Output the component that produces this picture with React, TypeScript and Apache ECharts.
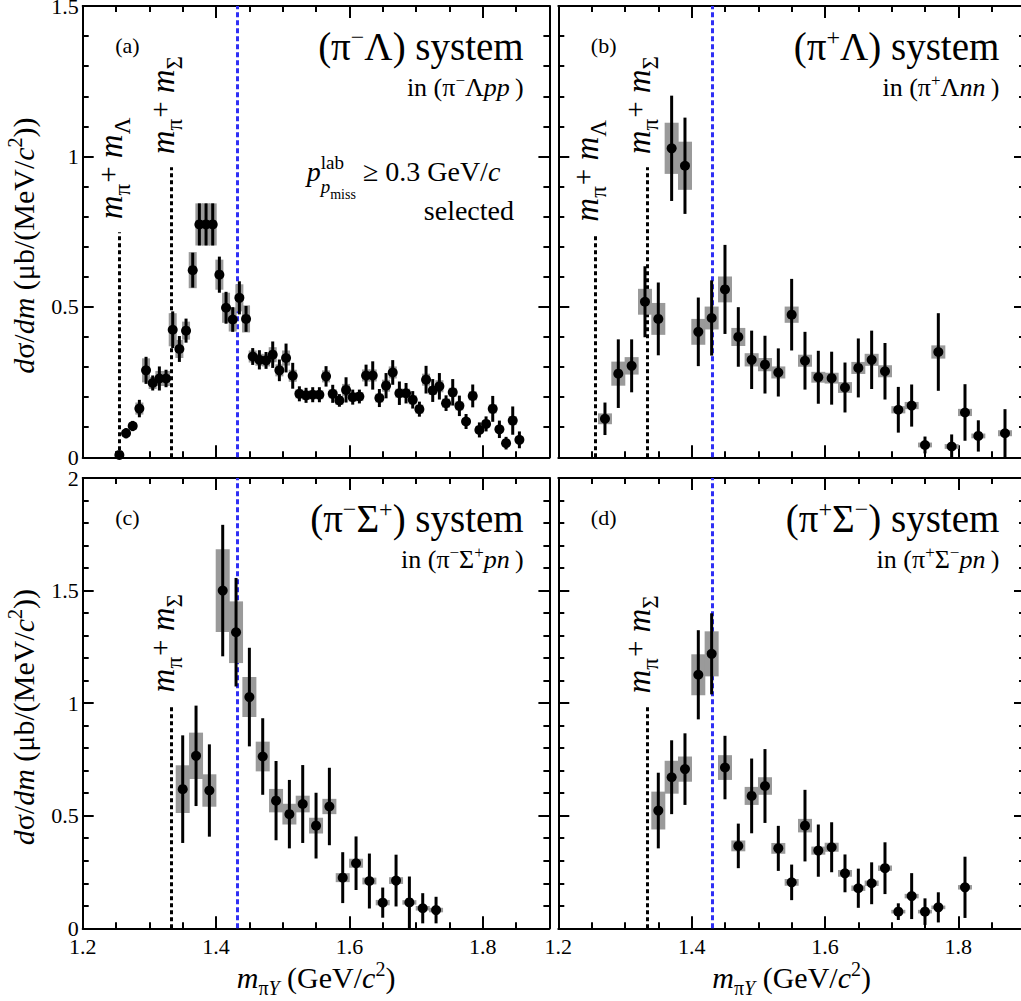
import React, { useEffect, useRef } from "react";
import * as echarts from "echarts";

const FONT = '"Liberation Serif", "Times New Roman", Times, serif';

// Mass thresholds (GeV/c^2)
const M_PI_LAMBDA = 1.2553;
const M_PI_SIGMA = 1.3335;
const M_KBAR_N = 1.432;

// Axis ranges and tick positions
const X_MIN = 1.2;
const X_MAX = 1.9;
const X_MAJOR = [1.2, 1.4, 1.6, 1.8];
const X_MINOR = [1.25, 1.3, 1.35, 1.45, 1.5, 1.55, 1.65, 1.7, 1.75, 1.85];
const Y_MAJOR_TOP = [0, 0.5, 1, 1.5];
const Y_MINOR_TOP = [0.1, 0.2, 0.3, 0.4, 0.6, 0.7, 0.8, 0.9, 1.1, 1.2, 1.3, 1.4];
const Y_MAJOR_BOTTOM = [0, 0.5, 1, 1.5, 2];
const Y_MINOR_BOTTOM = [0.1, 0.2, 0.3, 0.4, 0.6, 0.7, 0.8, 0.9, 1.1, 1.2, 1.3, 1.4, 1.6, 1.7, 1.8, 1.9];

// (a) pi- Lambda in (pi- Lambda p p)
const A_MASS = [
  1.255, 1.265, 1.275, 1.285, 1.295, 1.305, 1.315, 1.325, 1.335, 1.345,
  1.355, 1.365, 1.375, 1.385, 1.395, 1.405, 1.415, 1.425, 1.435, 1.445,
  1.455, 1.465, 1.475, 1.485, 1.495, 1.505, 1.515, 1.525, 1.535, 1.545,
  1.555, 1.565, 1.575, 1.585, 1.595, 1.605, 1.615, 1.625, 1.635, 1.645,
  1.655, 1.665, 1.675, 1.685, 1.695, 1.705, 1.715, 1.725, 1.735, 1.745,
  1.755, 1.765, 1.775, 1.785, 1.795, 1.805, 1.815, 1.825, 1.835, 1.845,
  1.855,
];
const A_XS = [
  0.008, 0.080, 0.104, 0.162, 0.289, 0.247, 0.262, 0.262, 0.424, 0.360,
  0.421, 0.622, 0.774, 0.774, 0.774, 0.607, 0.497, 0.458, 0.530, 0.460,
  0.335, 0.324, 0.322, 0.341, 0.289, 0.330, 0.271, 0.211, 0.206, 0.208,
  0.208, 0.269, 0.211, 0.189, 0.224, 0.200, 0.202, 0.272, 0.272, 0.197,
  0.238, 0.282, 0.213, 0.213, 0.191, 0.160, 0.258, 0.222, 0.236, 0.180,
  0.216, 0.171, 0.119, 0.204, 0.091, 0.111, 0.161, 0.093, 0.047, 0.122,
  0.058,
];
const A_STAT = [
  0.005, 0.017, 0.017, 0.029, 0.045, 0.025, 0.040, 0.029, 0.061, 0.043,
  0.040, 0.058, 0.070, 0.070, 0.070, 0.060, 0.053, 0.041, 0.055, 0.043,
  0.028, 0.032, 0.028, 0.044, 0.036, 0.048, 0.043, 0.025, 0.025, 0.025,
  0.025, 0.034, 0.030, 0.021, 0.042, 0.025, 0.023, 0.036, 0.047, 0.030,
  0.042, 0.041, 0.039, 0.034, 0.029, 0.025, 0.046, 0.038, 0.044, 0.026,
  0.044, 0.034, 0.025, 0.038, 0.025, 0.025, 0.043, 0.029, 0.021, 0.047,
  0.028,
];
const A_SYS = [
  0.004, 0.010, 0.012, 0.020, 0.040, 0.020, 0.025, 0.025, 0.055, 0.030,
  0.030, 0.060, 0.070, 0.070, 0.070, 0.050, 0.050, 0.040, 0.045, 0.045,
  0.020, 0.020, 0.020, 0.025, 0.020, 0.025, 0.020, 0.015, 0.015, 0.015,
  0.015, 0.020, 0.015, 0.015, 0.020, 0.015, 0.015, 0.020, 0.020, 0.015,
  0.020, 0.020, 0.015, 0.015, 0.015, 0.015, 0.020, 0.015, 0.020, 0.015,
  0.015, 0.015, 0.012, 0.015, 0.012, 0.012, 0.015, 0.012, 0.010, 0.015,
  0.012,
];

// (b) pi+ Lambda in (pi+ Lambda n n)
const B_MASS = [
  1.27, 1.29, 1.31, 1.33, 1.35, 1.37, 1.39, 1.41, 1.43, 1.45,
  1.47, 1.49, 1.51, 1.53, 1.55, 1.57, 1.59, 1.61, 1.63, 1.65,
  1.67, 1.69, 1.71, 1.73, 1.75, 1.77, 1.79, 1.81, 1.83, 1.87,
];
const B_XS = [
  0.128, 0.278, 0.304, 0.517, 0.460, 1.027, 0.969, 0.417, 0.463, 0.558,
  0.400, 0.324, 0.308, 0.282, 0.474, 0.321, 0.266, 0.263, 0.232, 0.297,
  0.324, 0.286, 0.158, 0.172, 0.041, 0.350, 0.036, 0.149, 0.071, 0.080,
];
const B_STAT = [
  0.054, 0.114, 0.088, 0.118, 0.121, 0.175, 0.160, 0.114, 0.125, 0.148,
  0.099, 0.097, 0.096, 0.080, 0.119, 0.096, 0.088, 0.088, 0.083, 0.098,
  0.097, 0.094, 0.076, 0.070, 0.028, 0.129, 0.040, 0.094, 0.052, 0.080,
];
const B_SYS = [
  0.018, 0.040, 0.029, 0.043, 0.053, 0.085, 0.080, 0.043, 0.038, 0.043,
  0.030, 0.022, 0.022, 0.020, 0.027, 0.020, 0.018, 0.018, 0.018, 0.020,
  0.020, 0.020, 0.012, 0.012, 0.008, 0.022, 0.008, 0.012, 0.008, 0.010,
];

// (c) pi- Sigma+ in (pi- Sigma+ p n)
const C_MASS = [
  1.35, 1.37, 1.39, 1.41, 1.43, 1.45, 1.47, 1.49, 1.51, 1.53,
  1.55, 1.57, 1.59, 1.61, 1.63, 1.65, 1.67, 1.69, 1.71, 1.73,
];
const C_XS = [
  0.618, 0.766, 0.612, 1.500, 1.315, 1.027, 0.763, 0.567, 0.507, 0.552,
  0.456, 0.541, 0.225, 0.289, 0.210, 0.114, 0.212, 0.115, 0.089, 0.081,
];
const C_STAT = [
  0.239, 0.223, 0.205, 0.292, 0.241, 0.219, 0.170, 0.176, 0.152, 0.173,
  0.146, 0.172, 0.113, 0.119, 0.122, 0.067, 0.115, 0.115, 0.067, 0.059,
];
const C_SYS = [
  0.106, 0.103, 0.072, 0.184, 0.137, 0.089, 0.066, 0.052, 0.046, 0.037,
  0.035, 0.034, 0.020, 0.020, 0.015, 0.012, 0.015, 0.010, 0.010, 0.010,
];

// (d) pi+ Sigma- in (pi+ Sigma- p n)
const D_MASS = [
  1.35, 1.37, 1.39, 1.41, 1.43, 1.45, 1.47, 1.49, 1.51, 1.53,
  1.55, 1.57, 1.59, 1.61, 1.63, 1.65, 1.67, 1.69, 1.71, 1.73,
  1.75, 1.77, 1.81,
];
const D_XS = [
  0.523, 0.671, 0.707, 1.126, 1.219, 0.714, 0.366, 0.588, 0.632, 0.355,
  0.204, 0.456, 0.345, 0.360, 0.244, 0.178, 0.200, 0.267, 0.074, 0.143,
  0.074, 0.093, 0.182,
];
const D_STAT = [
  0.168, 0.164, 0.159, 0.198, 0.180, 0.141, 0.099, 0.166, 0.164, 0.100,
  0.079, 0.159, 0.116, 0.111, 0.084, 0.087, 0.093, 0.115, 0.037, 0.102,
  0.059, 0.067, 0.136,
];
const D_SYS = [
  0.084, 0.073, 0.056, 0.091, 0.100, 0.055, 0.024, 0.040, 0.039, 0.024,
  0.015, 0.030, 0.018, 0.020, 0.015, 0.012, 0.012, 0.012, 0.008, 0.010,
  0.008, 0.008, 0.010,
];

// ---------- layout ----------
const COL_LEFT = [82.7, 558.3];
const ROW_TOP = [6, 478];
const ROW_H = [451.3, 450.3];
const PANEL_W = 466.7;

type Piece = { t: string; s: number; i?: boolean; dy?: number; dx?: number; stay?: boolean };

const sup = (t: string, s: number, dy: number): Piece => ({ t, s, dy });

type Panel = {
  tag: string;
  col: number;
  row: number;
  yMax: number;
  yMajor: number[];
  yMinor: number[];
  mass: number[];
  xs: number[];
  stat: number[];
  sys: number[];
  boxW: number;
  thresholds: { x: number; top: number; label: string }[];
  title: Piece[];
  sub: Piece[];
};

const PANELS: Panel[] = [
  {
    tag: "(a)", col: 0, row: 0, yMax: 1.5, yMajor: Y_MAJOR_TOP, yMinor: Y_MINOR_TOP,
    mass: A_MASS, xs: A_XS, stat: A_STAT, sys: A_SYS, boxW: 0.012,
    thresholds: [
      { x: M_PI_LAMBDA, top: 0.748, label: "Λ" },
      { x: M_PI_SIGMA, top: 0.964, label: "Σ" },
    ],
    title: [{ t: "(π", s: 39 }, sup("−", 24, -15), { t: "Λ) system", s: 39 }],
    sub: [{ t: "in (π", s: 26 }, sup("−", 17, -10), { t: "Λ", s: 26 }, { t: "pp", s: 26, i: true }, { t: "\u2009)", s: 26 }],
  },
  {
    tag: "(b)", col: 1, row: 0, yMax: 1.5, yMajor: Y_MAJOR_TOP, yMinor: Y_MINOR_TOP,
    mass: B_MASS, xs: B_XS, stat: B_STAT, sys: B_SYS, boxW: 0.021,
    thresholds: [
      { x: M_PI_LAMBDA, top: 0.74, label: "Λ" },
      { x: M_PI_SIGMA, top: 0.964, label: "Σ" },
    ],
    title: [{ t: "(π", s: 39 }, sup("+", 24, -15), { t: "Λ) system", s: 39 }],
    sub: [{ t: "in (π", s: 26 }, sup("+", 17, -10), { t: "Λ", s: 26 }, { t: "nn", s: 26, i: true }, { t: "\u2009)", s: 26 }],
  },
  {
    tag: "(c)", col: 0, row: 1, yMax: 2, yMajor: Y_MAJOR_BOTTOM, yMinor: Y_MINOR_BOTTOM,
    mass: C_MASS, xs: C_XS, stat: C_STAT, sys: C_SYS, boxW: 0.021,
    thresholds: [{ x: M_PI_SIGMA, top: 0.99, label: "Σ" }],
    title: [{ t: "(π", s: 39 }, sup("−", 24, -15), { t: "Σ", s: 39 }, sup("+", 24, -15), { t: ") system", s: 39 }],
    sub: [{ t: "in (π", s: 26 }, sup("−", 17, -10), { t: "Σ", s: 26 }, sup("+", 17, -10), { t: "pn", s: 26, i: true }, { t: "\u2009)", s: 26 }],
  },
  {
    tag: "(d)", col: 1, row: 1, yMax: 2, yMajor: Y_MAJOR_BOTTOM, yMinor: Y_MINOR_BOTTOM,
    mass: D_MASS, xs: D_XS, stat: D_STAT, sys: D_SYS, boxW: 0.021,
    thresholds: [{ x: M_PI_SIGMA, top: 0.985, label: "Σ" }],
    title: [{ t: "(π", s: 39 }, sup("+", 24, -15), { t: "Σ", s: 39 }, sup("−", 24, -15), { t: ") system", s: 39 }],
    sub: [{ t: "in (π", s: 26 }, sup("+", 17, -10), { t: "Σ", s: 26 }, sup("−", 17, -10), { t: "pn", s: 26, i: true }, { t: "\u2009)", s: 26 }],
  },
];

// ---------- text helpers ----------
let measureCtx: CanvasRenderingContext2D | null = null;
const fontOf = (p: Piece) => `${p.i ? "italic " : ""}${p.s}px ${FONT}`;
function measure(p: Piece): number {
  if (!measureCtx) measureCtx = document.createElement("canvas").getContext("2d");
  if (!measureCtx) return p.t.length * p.s * 0.5;
  measureCtx.font = fontOf(p);
  return measureCtx.measureText(p.t).width;
}

// Lays out a run of text pieces on a common baseline (y = baseline).
function richLine(
  pieces: Piece[],
  x: number,
  y: number,
  anchor: "left" | "right" | "center",
  rotation = 0
): any {
  let cx = 0;
  let maxX = 0;
  const placed: { p: Piece; at: number }[] = [];
  for (const p of pieces) {
    const start = cx + (p.dx || 0);
    placed.push({ p, at: start });
    const end = start + measure(p);
    maxX = Math.max(maxX, end);
    if (!p.stay) cx = end;
  }
  const total = Math.max(maxX, cx);
  const off = anchor === "left" ? 0 : anchor === "right" ? -total : -total / 2;
  const children = placed.map(({ p, at }) => ({
    type: "text",
    x: off + at,
    y: (p.dy || 0) - 0.34 * p.s,
    silent: true,
    style: {
      text: p.t,
      font: fontOf(p),
      fill: "#000",
      align: "left",
      verticalAlign: "middle",
      textAlign: "left",
      textVerticalAlign: "middle",
    },
  }));
  return { type: "group", x, y, rotation, silent: true, children };
}

// Snap a vertical line's x so a 3px stroke lands on whole pixels.
const crisp = (v: number) => Math.round(v - 0.5) + 0.5;

// ---------- chart ----------
const px = (p: Panel, v: number) => COL_LEFT[p.col] + ((v - X_MIN) / (X_MAX - X_MIN)) * PANEL_W;
const py = (p: Panel, v: number) => ROW_TOP[p.row] + ROW_H[p.row] * (1 - v / p.yMax);

function buildOption() {
  const grid: any[] = [];
  const xAxis: any[] = [];
  const yAxis: any[] = [];
  const series: any[] = [];
  const elements: any[] = [];
  const lineStyle = { color: "#000", width: 2 };

  PANELS.forEach((p, gi) => {
    const showX = p.row === 1;
    const showY = p.col === 0;
    grid.push({
      left: COL_LEFT[p.col],
      top: ROW_TOP[p.row],
      width: PANEL_W,
      height: ROW_H[p.row],
      containLabel: false,
      outerBoundsMode: "none",
      show: false,
    });

    const xBase = { type: "value", gridIndex: gi, min: X_MIN, max: X_MAX, splitLine: { show: false } };
    const xLabel = {
      show: showX, customValues: X_MAJOR, interval: 0, margin: 7,
      color: "#000", fontSize: 22, fontFamily: FONT,
    };
    for (const pos of ["bottom", "top"]) {
      xAxis.push({
        ...xBase, position: pos,
        axisLine: { show: true, onZero: false, lineStyle },
        axisTick: { show: true, inside: true, length: 12, customValues: X_MAJOR, lineStyle },
        axisLabel: pos === "bottom" ? xLabel : { show: false },
      });
      xAxis.push({
        ...xBase, position: pos,
        axisLine: { show: false, onZero: false },
        axisTick: { show: true, inside: true, length: 6, customValues: X_MINOR, lineStyle },
        axisLabel: { show: false },
      });
    }

    const yBase = { type: "value", gridIndex: gi, min: 0, max: p.yMax, splitLine: { show: false } };
    const yLabel = {
      show: showY, customValues: p.yMajor, interval: 0, margin: 4,
      color: "#000", fontSize: 22, fontFamily: FONT,
    };
    for (const pos of ["left", "right"]) {
      yAxis.push({
        ...yBase, position: pos,
        axisLine: { show: true, onZero: false, lineStyle },
        axisTick: { show: true, inside: true, length: 11, customValues: p.yMajor, lineStyle },
        axisLabel: pos === "left" ? yLabel : { show: false },
      });
      yAxis.push({
        ...yBase, position: pos,
        axisLine: { show: false, onZero: false },
        axisTick: { show: true, inside: true, length: 6, customValues: p.yMinor, lineStyle },
        axisLabel: { show: false },
      });
    }

    const ax = gi * 4;
    const rows = p.mass.map((m, i) => [m, p.xs[i], p.stat[i], p.sys[i]]);
    const halfW = p.boxW / 2;
    const yMax = p.yMax;

    // threshold markers
    series.push({
      type: "custom", xAxisIndex: ax, yAxisIndex: ax, z: 1, silent: true,
      data: p.thresholds.map((t) => [t.x, t.top]),
      renderItem: (_: any, api: any) => {
        const a = api.coord([api.value(0), 0]);
        const b = api.coord([api.value(0), api.value(1)]);
        const x = crisp(a[0]);
        return {
          type: "line",
          shape: { x1: x, y1: a[1], x2: x, y2: b[1] },
          style: { stroke: "#000", lineWidth: 3, lineDash: [4, 3] },
        };
      },
    });
    series.push({
      type: "custom", xAxisIndex: ax, yAxisIndex: ax, z: 1, silent: true,
      data: [[M_KBAR_N, yMax]],
      renderItem: (_: any, api: any) => {
        const a = api.coord([api.value(0), 0]);
        const b = api.coord([api.value(0), api.value(1)]);
        const x = crisp(a[0]);
        return {
          type: "line",
          shape: { x1: x, y1: a[1], x2: x, y2: b[1] },
          style: { stroke: "#2f2ff5", lineWidth: 3, lineDash: [5, 3] },
        };
      },
    });
    // systematic boxes
    series.push({
      type: "custom", xAxisIndex: ax, yAxisIndex: ax, z: 2, silent: true,
      data: rows,
      renderItem: (_: any, api: any) => {
        const x = api.value(0), y = api.value(1), s = api.value(3);
        const p1 = api.coord([x - halfW, Math.min(y + s, yMax)]);
        const p2 = api.coord([x + halfW, Math.max(y - s, 0)]);
        return {
          type: "rect",
          shape: { x: p1[0], y: p1[1], width: p2[0] - p1[0], height: Math.max(p2[1] - p1[1], 2) },
          style: { fill: "#9a9a9a" },
        };
      },
    });
    // points with statistical errors
    series.push({
      type: "custom", xAxisIndex: ax, yAxisIndex: ax, z: 3, silent: true,
      data: rows,
      renderItem: (_: any, api: any) => {
        const x = api.value(0), y = api.value(1), e = api.value(2);
        const c = api.coord([x, y]);
        const t = api.coord([x, Math.min(y + e, yMax)]);
        const b = api.coord([x, Math.max(y - e, 0)]);
        return {
          type: "group",
          children: [
            { type: "line", shape: { x1: c[0], y1: t[1], x2: c[0], y2: b[1] }, style: { stroke: "#000", lineWidth: 3 } },
            { type: "circle", shape: { cx: c[0], cy: c[1], r: 5 }, style: { fill: "#000" } },
          ],
        };
      },
    });

    // annotations
    const left = COL_LEFT[p.col];
    const top = ROW_TOP[p.row];
    elements.push(richLine([{ t: p.tag, s: 22 }], left + 32.5, top + 47, "left"));
    elements.push(richLine(p.title, left + 441, top + 54, "right"));
    elements.push(richLine(p.sub, left + 441, top + 90, "right"));
    for (const t of p.thresholds) {
      const lx = px(p, t.x);
      const ly = py(p, t.top);
      elements.push(
        richLine(
          [
            { t: "m", s: 33, i: true },
            { t: "π", s: 23, dy: 8 },
            { t: "+", s: 29, dy: -5, dx: 1 },
            { t: " m", s: 33, i: true },
            { t: t.label, s: 23, dy: 8 },
          ],
          lx + 3,
          ly - 13,
          "left",
          Math.PI / 2
        )
      );
    }
    if (showY) {
      elements.push(
        richLine(
          [
            { t: "d", s: 30, i: true },
            { t: "σ", s: 30 },
            { t: "/", s: 30 },
            { t: "dm", s: 30, i: true },
            { t: " (μb/(MeV/", s: 30 },
            { t: "c", s: 30, i: true },
            { t: "2", s: 20, dy: -12 },
            { t: "))", s: 30 },
          ],
          34,
          top + ROW_H[p.row] / 2 + 14,
          "center",
          Math.PI / 2
        )
      );
    }
    if (showX) {
      elements.push(
        richLine(
          [
            { t: "m", s: 30, i: true },
            { t: "π", s: 20, dy: 7 },
            { t: "Y", s: 20, dy: 7, i: true },
            { t: " (GeV/", s: 30 },
            { t: "c", s: 30, i: true },
            { t: "2", s: 20, dy: -12 },
            { t: ")", s: 30 },
          ],
          left + PANEL_W / 2,
          988,
          "center"
        )
      );
    }
  });

  // selection note in panel (a)
  elements.push(
    richLine(
      [
        { t: "p", s: 28, i: true },
        { t: "lab", s: 19, dy: -12, stay: true },
        { t: "p", s: 19, i: true, dy: 12 },
        { t: "miss", s: 14, dy: 18 },
        { t: " ≥ 0.3 GeV/", s: 28 },
        { t: "c", s: 28, i: true },
      ],
      306.7,
      181,
      "left"
    )
  );
  elements.push(richLine([{ t: "selected", s: 28 }], 514, 220, "right"));

  return {
    animation: false,
    backgroundColor: "#fff",
    grid,
    xAxis,
    yAxis,
    series,
    graphic: { elements },
  };
}

export default function App() {
  const ref = useRef<HTMLDivElement>(null);
  useEffect(() => {
    if (!ref.current) return;
    const chart = echarts.init(ref.current, undefined, { renderer: "svg" });
    chart.setOption(buildOption() as any);
    return () => chart.dispose();
  }, []);
  return (
    <div
      ref={ref}
      style={{ position: "absolute", left: 0, top: 0, width: 1021, height: 1001, background: "#fff" }}
    />
  );
}
